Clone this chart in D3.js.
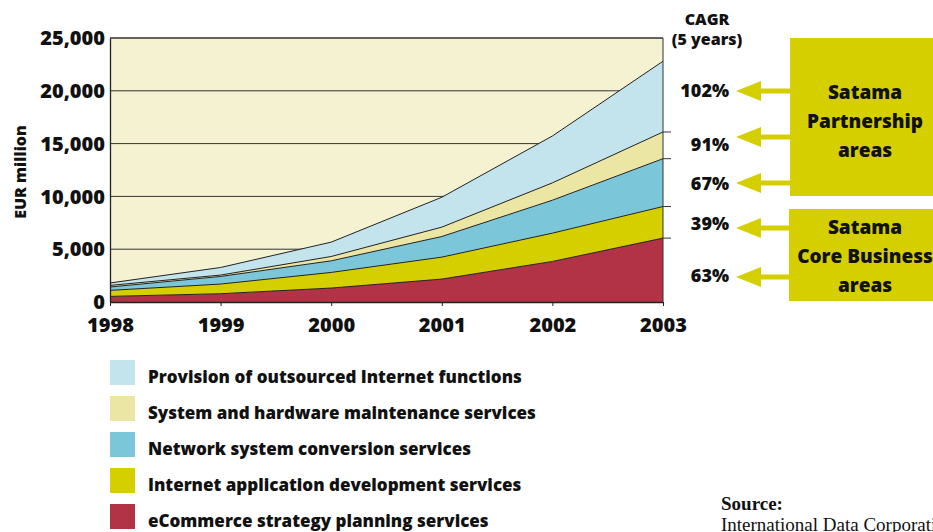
<!DOCTYPE html>
<html>
<head>
<meta charset="utf-8">
<script src="https://cdn.jsdelivr.net/npm/d3@7"></script>
<style>
  body { margin: 0; background: #fff; }
  svg { display: block; }
  text { font-family: "Open Sans", sans-serif; font-weight: 800; fill: #111; }
</style>
</head>
<body>
<script>
// data (EUR million)
const years = [1998, 1999, 2000, 2001, 2002, 2003];
const ecommerce = [530, 785, 1320, 2170, 3840, 6050];
const appDev = [570, 915, 1480, 2080, 2680, 2990];
const netConv = [320, 720, 1100, 1950, 3120, 4530];
const maintenance = [150, 130, 410, 890, 1640, 2530];
const outsourced = [230, 720, 1360, 2830, 4440, 6700];
const yTicks = [0, 5000, 10000, 15000, 20000, 25000];
const cagr = ["63%", "39%", "67%", "91%", "102%"];

const series = [
  { name: "eCommerce strategy planning services", values: ecommerce, color: "#b23246" },
  { name: "Internet application development services", values: appDev, color: "#d6cf00" },
  { name: "Network system conversion services", values: netConv, color: "#7cc6da" },
  { name: "System and hardware maintenance services", values: maintenance, color: "#ebe6a4" },
  { name: "Provision of outsourced Internet functions", values: outsourced, color: "#c3e4ec" }
];

const width = 933, height = 532;
const margin = { top: 38, left: 110, right: 270, bottom: 230 };

const svg = d3.select("body").append("svg")
  .attr("width", width)
  .attr("height", height);

const table = years.map((y, i) => {
  const row = { year: y };
  series.forEach(s => row[s.name] = s.values[i]);
  return row;
});
const stack = d3.stack().keys(series.map(s => s.name));
const layers = stack(table);

const x = d3.scaleLinear()
  .domain([1998, 2003])
  .range([margin.left, 663]);
const y = d3.scaleLinear()
  .domain([0, 25000])
  .range([302, margin.top]);

// plot background
svg.append("rect")
  .attr("x", x(1998)).attr("y", y(25000))
  .attr("width", x(2003) - x(1998)).attr("height", y(0) - y(25000))
  .attr("fill", "#f5f2d2");

// grid lines
svg.append("g").selectAll("line")
  .data(yTicks.slice(1))
  .join("line")
  .attr("x1", x(1998)).attr("x2", x(2003))
  .attr("y1", d => y(d)).attr("y2", d => y(d))
  .attr("stroke", "#333").attr("stroke-width", 1);

// areas
const area = d3.area()
  .x(d => x(d.data.year))
  .y0(d => y(d[0]))
  .y1(d => y(d[1]));
const line = d3.line()
  .x(d => x(d.data.year))
  .y(d => y(d[1]));

svg.append("g").selectAll("path")
  .data(layers)
  .join("path")
  .attr("d", area)
  .attr("fill", (d, i) => series[i].color);

svg.append("g").selectAll("path")
  .data(layers)
  .join("path")
  .attr("d", line)
  .attr("fill", "none")
  .attr("stroke", "#222")
  .attr("stroke-width", 1);

// right border and boundary ticks
svg.append("line")
  .attr("x1", x(2003)).attr("x2", x(2003))
  .attr("y1", y(25000)).attr("y2", y(0))
  .attr("stroke", "#333");
svg.append("g").selectAll("line")
  .data(layers.slice(0, 4))
  .join("line")
  .attr("x1", x(2003)).attr("x2", x(2003) + 8)
  .attr("y1", d => y(d[d.length - 1][1])).attr("y2", d => y(d[d.length - 1][1]))
  .attr("stroke", "#333");

// axes
const yAxis = svg.append("g")
  .attr("transform", `translate(${x(1998)},0)`)
  .call(d3.axisLeft(y).tickValues(yTicks).tickFormat(d3.format(",")).tickSize(0).tickPadding(5));
yAxis.select(".domain").attr("stroke", "#222").attr("stroke-width", 1.3);
yAxis.selectAll("text").style("font-size", "20px").attr("fill", "#111").attr("dy", "0.33em");

const xAxis = svg.append("g")
  .attr("transform", `translate(0,${y(0)})`)
  .call(d3.axisBottom(x).tickValues(years).tickFormat(d3.format("d")).tickSize(4).tickSizeOuter(0).tickPadding(12));
xAxis.select(".domain").attr("stroke", "#222").attr("stroke-width", 1.3);
xAxis.selectAll(".tick line").attr("stroke", "#222");
xAxis.selectAll("text").style("font-size", "20px").attr("fill", "#111");

// top border
svg.append("line")
  .attr("x1", x(1998)).attr("x2", x(2003))
  .attr("y1", y(25000)).attr("y2", y(25000))
  .attr("stroke", "#333");

svg.append("text")
  .attr("transform", `translate(26,${(y(0) + y(25000)) / 2 + 2}) rotate(-90)`)
  .attr("text-anchor", "middle")
  .style("font-size", "16px")
  .text("EUR million");

// CAGR column
svg.append("text").attr("x", 707).attr("y", 25).attr("text-anchor", "middle")
  .style("font-size", "16px").text("CAGR");
svg.append("text").attr("x", 707).attr("y", 45).attr("text-anchor", "middle")
  .style("font-size", "16px").text("(5 years)");

const labelY = [276, 224, 184, 145, 91];
const arrowY = [277, 228, 183, 137, 91];
svg.append("g").selectAll("text")
  .data(cagr)
  .join("text")
  .attr("x", 729).attr("y", (d, i) => labelY[i])
  .attr("dy", "0.36em")
  .attr("text-anchor", "end")
  .style("font-size", "18px")
  .text(d => d);

const boxColor = "#d6cf00";
svg.append("g").selectAll("path")
  .data(arrowY)
  .join("path")
  .attr("d", d => `M736,${d} L761,${d - 10} L761,${d - 2.5} L792,${d - 2.5} L792,${d + 2.5} L761,${d + 2.5} L761,${d + 10} Z`)
  .attr("fill", boxColor);

svg.append("rect").attr("x", 790).attr("y", 38).attr("width", 150).attr("height", 158).attr("fill", boxColor);
svg.append("rect").attr("x", 789).attr("y", 209).attr("width", 150).attr("height", 92).attr("fill", boxColor);

const box1 = ["Satama", "Partnership", "areas"];
const box2 = ["Satama", "Core Business", "areas"];
svg.append("g").selectAll("text")
  .data(box1)
  .join("text")
  .attr("x", 865).attr("y", (d, i) => 92 + i * 29)
  .attr("dy", "0.36em").attr("text-anchor", "middle")
  .style("font-size", "19px")
  .text(d => d);
svg.append("g").selectAll("text")
  .data(box2)
  .join("text")
  .attr("x", 865).attr("y", (d, i) => 227 + i * 29)
  .attr("dy", "0.36em").attr("text-anchor", "middle")
  .style("font-size", "19px")
  .text(d => d);

// legend
const legend = svg.append("g").selectAll("g")
  .data(series.slice().reverse())
  .join("g")
  .attr("transform", (d, i) => `translate(110,${360 + i * 36})`);
legend.append("rect")
  .attr("width", 25).attr("height", 25)
  .attr("fill", d => d.color);
legend.append("text")
  .attr("x", 38).attr("y", 23)
  .style("font-size", "17px")
  .text(d => d.name);

// source
svg.append("text").attr("x", 721).attr("y", 510)
  .style("font-family", "'Liberation Serif', serif").style("font-weight", "700").style("font-size", "19px")
  .text("Source:");
svg.append("text").attr("x", 721).attr("y", 531)
  .style("font-family", "'Liberation Serif', serif").style("font-weight", "400").style("font-size", "19px")
  .text("International Data Corporation");
</script>
</body>
</html>
